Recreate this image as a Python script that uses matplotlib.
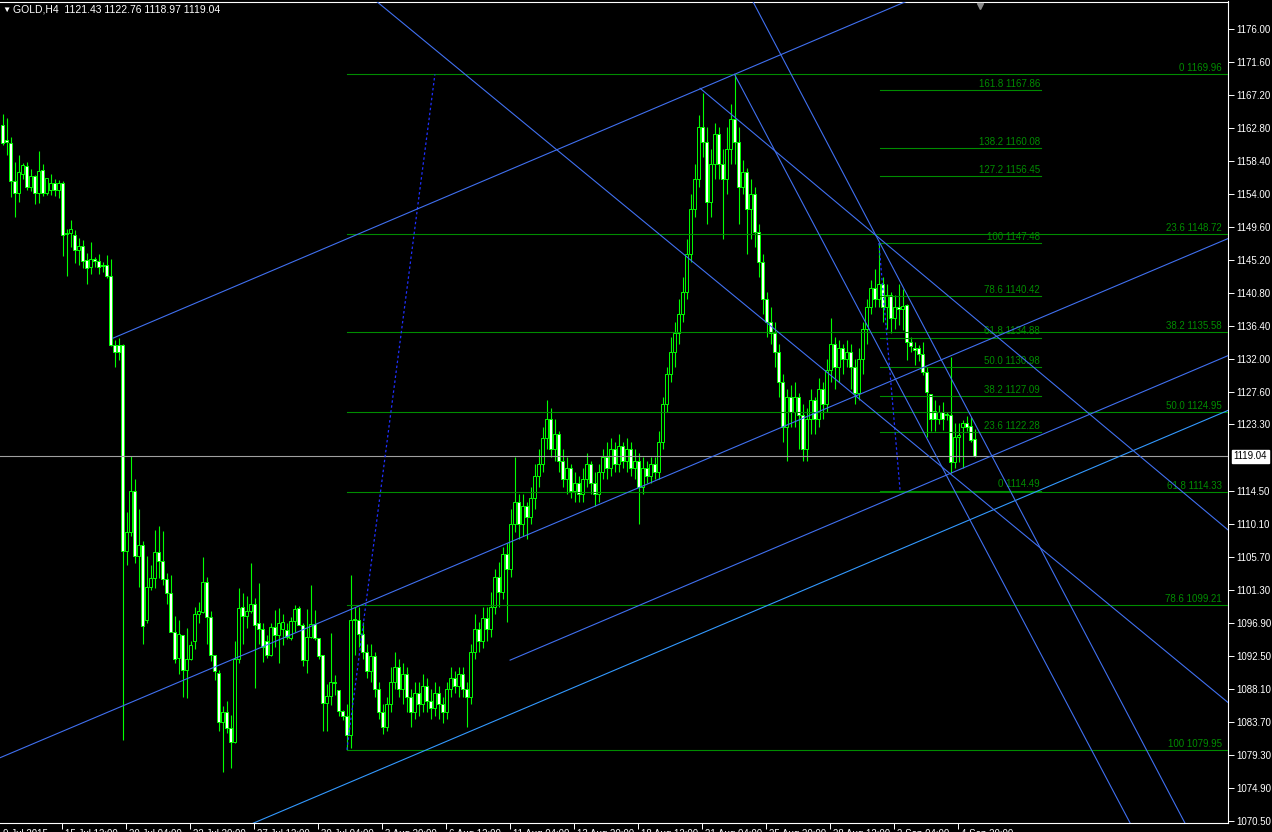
import numpy as np
import matplotlib
matplotlib.use('Agg')
import matplotlib.pyplot as plt
import matplotlib.transforms as mtransforms

plt.rcParams['font.family'] = ['Liberation Sans', 'DejaVu Sans']

# GOLD H4 candles, one value per bar (bar 0 = first bar on the left)
opens = [1163.2, 1161.2, 1160.8, 1155.7, 1154.2, 1156.7, 1157.7, 1154.9, 1156.4, 1154.1,
         1157.2, 1154.1, 1154.6, 1155.5, 1154.5, 1155.5, 1148.7, 1148.8, 1148.6, 1146.6,
         1147.1, 1145.2, 1144.3, 1145.3, 1145.1, 1144.5, 1144.6, 1143.1, 1133.9, 1133.9,
         1133.9, 1106.4, 1109.0, 1114.4, 1105.8, 1107.3, 1097.3, 1101.7, 1102.9, 1106.3,
         1105.1, 1102.7, 1100.9, 1095.7, 1092.2, 1095.2, 1090.6, 1092.1, 1094.4, 1098.1,
         1098.3, 1102.3, 1097.6, 1092.6, 1090.2, 1083.6, 1084.96, 1082.8, 1081.0, 1092.1,
         1099.0, 1097.8, 1098.5, 1099.4, 1096.8, 1096.1, 1094.4, 1092.6, 1096.3, 1095.2,
         1096.0, 1095.9, 1094.8, 1097.1, 1098.8, 1096.6, 1091.9, 1095.0, 1096.7, 1094.8,
         1092.6, 1086.2, 1087.1, 1089.0, 1087.9, 1085.1, 1084.4, 1081.9, 1097.4, 1097.2,
         1095.4, 1093.0, 1090.5, 1092.5, 1088.0, 1085.0, 1083.0, 1086.0, 1089.0, 1091.0,
         1088.0, 1090.0, 1087.0, 1085.0, 1087.5, 1086.0, 1088.5, 1086.5, 1085.5, 1087.5,
         1086.0, 1085.0, 1088.0, 1089.5, 1088.5, 1090.0, 1088.0, 1087.0, 1093.0, 1096.0,
         1094.5, 1097.5, 1096.0, 1099.0, 1103.0, 1101.0, 1106.0, 1104.0, 1110.0, 1113.0,
         1110.0, 1112.5, 1111.0, 1113.5, 1116.5, 1118.0, 1121.5, 1124.0, 1120.0, 1122.0,
         1118.5, 1116.0, 1117.5, 1114.5, 1115.5, 1114.0, 1116.0, 1118.0, 1115.5, 1114.0,
         1117.0, 1119.0, 1117.5, 1120.0, 1118.0, 1120.5, 1118.5, 1120.0, 1117.5, 1118.5,
         1115.0, 1117.5, 1116.5, 1118.0, 1117.0, 1121.0, 1126.0, 1130.0, 1133.0, 1135.5,
         1138.0, 1141.0, 1146.0, 1152.0, 1156.0, 1163.0, 1161.0, 1153.0, 1158.0, 1162.0,
         1158.0, 1156.0, 1160.0, 1164.0, 1161.0, 1155.0, 1157.0, 1152.0, 1154.0, 1149.0,
         1145.0, 1140.0, 1137.0, 1135.5, 1133.0, 1129.0, 1123.0, 1127.0, 1125.0, 1127.0,
         1124.5, 1120.0, 1124.0, 1126.5, 1124.0, 1128.0, 1126.0, 1130.5, 1134.0, 1131.0,
         1133.5, 1132.0, 1133.0, 1131.0, 1127.5, 1132.0, 1136.0, 1139.0, 1141.5, 1140.0,
         1142.0, 1139.0, 1140.5, 1137.5, 1139.0, 1138.65, 1139.2, 1134.3, 1133.5, 1133.5,
         1132.65, 1130.3, 1127.4, 1125.1, 1124.0, 1125.0, 1124.7, 1124.6, 1118.35, 1121.7,
         1123.0, 1123.5, 1123.1, 1121.43]
highs = [1164.7, 1164.1, 1161.6, 1158.3, 1159.2, 1158.2, 1158.3, 1157.4, 1156.5, 1159.7,
         1158.0, 1156.2, 1156.7, 1156.0, 1155.9, 1155.7, 1149.4, 1150.6, 1149.2, 1148.1,
         1147.9, 1146.2, 1147.6, 1145.6, 1146.0, 1145.0, 1145.9, 1145.4, 1134.6, 1134.8,
         1134.0, 1111.7, 1119.1, 1116.0, 1112.1, 1107.8, 1105.8, 1104.6, 1109.2, 1109.8,
         1109.1, 1103.5, 1103.2, 1097.8, 1097.3, 1095.3, 1096.2, 1094.4, 1099.0, 1099.7,
         1105.6, 1103.0, 1098.4, 1092.6, 1090.6, 1085.8, 1086.4, 1084.6, 1094.5, 1101.5,
         1100.8, 1100.4, 1104.9, 1100.2, 1102.2, 1096.8, 1095.2, 1096.8, 1098.6, 1098.8,
         1098.1, 1096.8, 1097.7, 1099.2, 1099.1, 1096.8, 1098.7, 1101.9, 1098.6, 1094.8,
         1092.6, 1088.7, 1095.5, 1089.9, 1087.9, 1085.3, 1086.1, 1103.2, 1099.0, 1099.0,
         1097.0, 1094.0, 1094.0, 1093.0, 1089.0, 1086.0, 1087.0, 1091.0, 1093.0, 1092.0,
         1091.5, 1091.0, 1088.0, 1089.0, 1089.0, 1090.0, 1089.5, 1088.0, 1089.0, 1088.5,
         1087.0, 1089.0, 1091.0, 1090.5, 1091.0, 1091.0, 1089.0, 1094.0, 1098.0, 1097.0,
         1099.0, 1099.0, 1101.0, 1104.0, 1105.0, 1107.0, 1107.5, 1112.0, 1119.0, 1114.0,
         1114.0, 1113.0, 1115.0, 1118.0, 1120.0, 1123.0, 1126.5, 1125.5, 1124.0, 1122.5,
         1120.0, 1119.0, 1118.0, 1117.0, 1116.5, 1117.5, 1119.5, 1118.5, 1117.0, 1118.0,
         1120.0, 1121.0, 1121.5, 1121.0, 1122.0, 1121.0, 1121.5, 1121.0, 1120.0, 1119.5,
         1119.0, 1118.5, 1119.0, 1119.0, 1122.5, 1127.0, 1131.0, 1135.0, 1137.0, 1140.0,
         1143.0, 1148.0, 1154.0, 1158.0, 1164.5, 1167.5, 1163.0, 1160.0, 1163.5, 1163.0,
         1160.0, 1163.0, 1166.0, 1169.96, 1163.0, 1158.5, 1157.5, 1156.0, 1155.0, 1150.0,
         1146.0, 1141.0, 1139.0, 1137.0, 1134.0, 1130.0, 1128.0, 1128.5, 1129.0, 1127.5,
         1126.0, 1125.5, 1128.0, 1127.0, 1129.5, 1129.0, 1132.0, 1137.5, 1135.0, 1134.5,
         1134.0, 1134.5, 1134.0, 1132.0, 1133.5, 1137.0, 1140.0, 1142.5, 1144.0, 1147.48,
         1143.0, 1142.0, 1141.0, 1140.5, 1142.0, 1141.4, 1139.3, 1135.0, 1134.3, 1133.9,
         1134.3, 1131.0, 1127.4, 1126.6, 1125.9, 1126.3, 1125.0, 1132.25, 1123.5, 1123.5,
         1123.9, 1124.4, 1124.3, 1122.76]
lows = [1160.5, 1159.2, 1153.6, 1151.0, 1152.9, 1156.0, 1154.6, 1154.4, 1152.7, 1152.8,
        1153.8, 1153.9, 1153.9, 1153.7, 1153.5, 1145.8, 1143.1, 1147.0, 1144.8, 1144.5,
        1144.1, 1142.0, 1143.4, 1144.3, 1143.4, 1143.6, 1142.8, 1133.8, 1131.0, 1131.9,
        1081.3, 1104.6, 1108.4, 1104.8, 1101.7, 1094.1, 1096.8, 1101.3, 1101.5, 1102.8,
        1101.9, 1099.4, 1095.7, 1091.5, 1090.1, 1087.0, 1086.8, 1091.9, 1093.4, 1096.9,
        1098.2, 1094.1, 1091.8, 1089.3, 1082.4, 1077.0, 1082.2, 1077.5, 1080.8, 1091.5,
        1094.1, 1096.2, 1098.2, 1088.2, 1094.1, 1091.7, 1092.2, 1092.4, 1093.7, 1091.5,
        1093.9, 1094.7, 1094.6, 1095.7, 1096.6, 1091.1, 1090.2, 1094.8, 1094.6, 1092.1,
        1082.4, 1082.4, 1085.9, 1087.3, 1084.4, 1083.9, 1079.95, 1080.2, 1092.6, 1093.7,
        1092.0, 1089.5, 1089.0, 1087.0, 1084.0, 1082.0, 1082.5, 1085.0, 1088.0, 1087.0,
        1086.0, 1085.0, 1083.0, 1084.0, 1084.5, 1085.0, 1085.0, 1084.0, 1084.5, 1084.0,
        1083.5, 1084.0, 1087.0, 1087.5, 1087.0, 1087.0, 1083.0, 1086.0, 1092.0, 1093.0,
        1093.5, 1094.5, 1095.0, 1098.0, 1099.0, 1100.0, 1097.0, 1103.0, 1109.0, 1108.0,
        1108.5, 1108.0, 1110.0, 1112.0, 1115.0, 1117.0, 1120.0, 1119.0, 1118.5, 1117.0,
        1115.0, 1114.0, 1113.5, 1113.0, 1113.0, 1113.0, 1115.0, 1114.0, 1112.5, 1113.0,
        1116.0, 1116.0, 1116.5, 1117.0, 1117.0, 1117.5, 1117.0, 1116.5, 1116.0, 1110.0,
        1114.0, 1115.5, 1115.5, 1116.0, 1116.0, 1120.0, 1125.0, 1129.0, 1131.0, 1134.0,
        1137.0, 1140.0, 1145.0, 1151.0, 1155.0, 1159.0, 1150.0, 1151.0, 1156.0, 1156.0,
        1148.0, 1154.0, 1158.0, 1158.0, 1150.0, 1154.0, 1146.0, 1148.0, 1147.0, 1143.0,
        1138.0, 1135.0, 1134.0, 1131.0, 1127.0, 1121.0, 1118.5, 1123.0, 1123.0, 1120.0,
        1118.5, 1118.5, 1122.0, 1122.0, 1123.0, 1124.0, 1125.0, 1129.0, 1128.0, 1129.0,
        1130.0, 1131.0, 1128.0, 1126.0, 1126.5, 1130.0, 1134.0, 1138.0, 1139.0, 1139.0,
        1137.0, 1136.0, 1135.5, 1136.0, 1136.5, 1135.9, 1131.9, 1133.0, 1131.2, 1131.7,
        1129.9, 1121.7, 1122.5, 1122.5, 1123.4, 1122.6, 1123.9, 1116.8, 1117.5, 1118.3,
        1117.5, 1122.5, 1121.0, 1118.97]
closes = [1160.8, 1160.9, 1155.7, 1154.2, 1157.0, 1157.9, 1154.9, 1156.4, 1154.1, 1157.1,
          1154.1, 1156.1, 1155.5, 1154.5, 1155.5, 1148.6, 1148.8, 1149.3, 1146.6, 1147.1,
          1145.1, 1144.1, 1145.4, 1145.1, 1144.3, 1144.4, 1143.1, 1133.9, 1133.0, 1133.0,
          1106.4, 1109.0, 1114.4, 1105.8, 1107.3, 1096.45, 1101.7, 1102.9, 1106.3, 1105.1,
          1102.7, 1100.8, 1095.7, 1092.1, 1095.4, 1090.6, 1092.1, 1093.9, 1098.0, 1098.4,
          1102.3, 1097.6, 1092.6, 1090.5, 1083.6, 1084.96, 1082.8, 1081.0, 1092.1, 1098.9,
          1097.8, 1098.5, 1099.4, 1096.6, 1096.1, 1093.6, 1092.6, 1096.3, 1095.2, 1096.8,
          1097.0, 1095.0, 1097.1, 1098.7, 1096.6, 1091.9, 1095.0, 1096.7, 1094.8, 1092.4,
          1086.2, 1087.1, 1089.0, 1088.9, 1085.1, 1084.4, 1081.9, 1097.3, 1097.2, 1095.4,
          1093.0, 1090.5, 1092.5, 1088.0, 1085.0, 1083.0, 1086.0, 1089.0, 1091.0, 1088.0,
          1090.0, 1087.0, 1085.0, 1087.5, 1086.0, 1088.5, 1086.5, 1085.5, 1087.5, 1086.0,
          1085.0, 1088.0, 1089.5, 1088.5, 1090.0, 1088.0, 1087.0, 1093.0, 1096.0, 1094.5,
          1097.5, 1096.0, 1099.0, 1103.0, 1101.0, 1106.0, 1104.0, 1110.0, 1113.0, 1110.0,
          1112.5, 1111.0, 1113.5, 1116.5, 1118.0, 1121.5, 1124.0, 1120.0, 1122.0, 1118.5,
          1116.0, 1117.5, 1114.5, 1115.5, 1114.0, 1116.0, 1118.0, 1115.5, 1114.0, 1117.0,
          1119.0, 1117.5, 1120.0, 1118.0, 1120.5, 1118.5, 1120.0, 1117.5, 1118.5, 1115.0,
          1117.5, 1116.5, 1118.0, 1117.0, 1121.0, 1126.0, 1130.0, 1133.0, 1135.5, 1138.0,
          1141.0, 1146.0, 1152.0, 1156.0, 1163.0, 1161.0, 1153.0, 1158.0, 1162.0, 1158.0,
          1156.0, 1160.0, 1164.0, 1161.0, 1155.0, 1157.0, 1152.0, 1154.0, 1149.0, 1145.0,
          1140.0, 1137.0, 1135.5, 1133.0, 1129.0, 1123.0, 1127.0, 1125.0, 1127.0, 1124.5,
          1120.0, 1124.0, 1126.5, 1124.0, 1128.0, 1126.0, 1130.5, 1134.0, 1131.0, 1133.5,
          1132.0, 1133.0, 1131.0, 1127.5, 1132.0, 1136.0, 1139.0, 1141.5, 1140.0, 1142.0,
          1139.0, 1140.5, 1137.5, 1139.0, 1138.7, 1139.1, 1134.3, 1133.7, 1133.2, 1132.7,
          1130.3, 1127.6, 1124.0, 1124.0, 1125.0, 1124.0, 1124.6, 1118.35, 1121.7, 1121.9,
          1123.5, 1123.0, 1121.3, 1119.04]

# right price scale
price_ticks = [1176.00, 1171.60, 1167.20, 1162.80, 1158.40, 1154.00, 1149.60, 1145.20,
               1140.80, 1136.40, 1132.00, 1127.60, 1123.30, 1114.50, 1110.10, 1105.70,
               1101.30, 1096.90, 1092.50, 1088.10, 1083.70, 1079.30, 1074.90, 1070.50]
bid = 1119.04

# time scale
time_bars = [-0.5, 15, 31, 47, 63, 79, 95, 111, 127, 143, 159, 175, 191, 207, 223, 239]
time_labels = ['9 Jul 2015', '15 Jul 12:00', '20 Jul 04:00', '22 Jul 20:00', '27 Jul 12:00',
               '30 Jul 04:00', '3 Aug 20:00', '6 Aug 12:00', '11 Aug 04:00', '13 Aug 20:00',
               '18 Aug 12:00', '21 Aug 04:00', '25 Aug 20:00', '28 Aug 12:00', '2 Sep 04:00',
               '4 Sep 20:00']

# fibonacci retracements
fib1_levels = ['0', '23.6', '38.2', '50.0', '61.8', '78.6', '100']
fib1_prices = [1169.96, 1148.72, 1135.58, 1124.95, 1114.33, 1099.21, 1079.95]
fib1_anchor = [(86.1, 1079.95), (108.1, 1169.96)]
fib2_levels = ['161.8', '138.2', '127.2', '100', '78.6', '61.8', '50.0', '38.2', '23.6', '0']
fib2_prices = [1167.86, 1160.08, 1156.45, 1147.48, 1140.42, 1134.88, 1130.98, 1127.09, 1122.28, 1114.49]
fib2_anchor = [(219.1, 1147.48), (224.4, 1114.49)]

# trend lines (bar, price) anchor pairs
chan_top = [(27.6, 1134.8), (183.0, 1169.96)]
chan_mid1 = [(-0.6, 1078.9), (305.6, 1147.9)]
chan_mid2 = [(126.9, 1091.9), (305.6, 1132.3)]
chan_low = [(62.8, 1070.2), (305.6, 1125.0)]
fan_a = [(93.1, 1179.86), (305.6, 1086.6)]
fan_b = [(174.4, 1168.1), (305.6, 1109.6)]
fan_c = [(187.4, 1179.86), (295.6, 1070.2)]
fan_d = [(183.0, 1169.96), (281.9, 1070.2)]

W, H = 1272, 832
fig = plt.figure(figsize=(W / 100, H / 100), dpi=100, facecolor='black')
ax = fig.add_axes([0, (H - 823) / H, 1228 / W, 821.5 / H])
ax.set_facecolor('black')
ax.set_xlim(-0.625, 306.375)
ax.set_ylim(1070.20, 1179.664)

o = np.array(opens); h = np.array(highs); l = np.array(lows); c = np.array(closes)
idx = np.arange(len(c))
lime = '#00FF00'
ax.vlines(idx, l, h, color=lime, lw=0.8, zorder=2)
ax.bar(idx, np.abs(c - o), bottom=np.minimum(o, c), width=0.55,
       color=np.where(c >= o, 'black', 'white'), edgecolor=lime, linewidth=0.7, zorder=3)

ax.axhline(bid, color='#A0A0A0', lw=0.8, zorder=4)

fgreen = '#008C00'
for lv, pr in zip(fib1_levels, fib1_prices):
    ax.plot([86.1, 320], [pr, pr], color=fgreen, lw=0.8, zorder=4)
    ax.text(304.9, pr + 0.15, f'{lv} {pr:.2f}', color=fgreen, fontsize=7, ha='right', va='bottom', zorder=5)
for lv, pr in zip(fib2_levels, fib2_prices):
    ax.plot([219.4, 259.6], [pr, pr], color=fgreen, lw=0.8, zorder=4)
    ax.text(259.4, pr + 0.15, f'{lv} {pr:.2f}', color=fgreen, fontsize=7, ha='right', va='bottom', zorder=5)
for a in (fib1_anchor, fib2_anchor):
    ax.plot([a[0][0], a[1][0]], [a[0][1], a[1][1]], color='#2030FF', lw=0.9, ls=(0, (2, 2)), zorder=5)


def draw_line(pts, full=False, color='#4070F0'):
    (x1, y1), (x2, y2) = pts
    s = (y2 - y1) / (x2 - x1)
    xa = -20 if full else x1
    xb = 340
    ax.plot([xa, xb], [y1 + s * (xa - x1), y1 + s * (xb - x1)], color=color, lw=0.8, zorder=6)


draw_line(chan_top)
draw_line(chan_mid1, full=True)
draw_line(chan_mid2)
draw_line(chan_low, full=True, color='#3399FF')
draw_line(fan_a, full=True)
draw_line(fan_b)
draw_line(fan_c, full=True)
draw_line(fan_d)

# axes frame
for side in ('top', 'right', 'bottom'):
    ax.spines[side].set_color('white')
    ax.spines[side].set_linewidth(0.8)
ax.spines['left'].set_visible(False)

ax.yaxis.tick_right()
ax.set_yticks(price_ticks, [f'{p:.2f}' for p in price_ticks])
ax.tick_params(axis='y', colors='white', length=4, width=0.7, pad=2, labelsize=7)
ax.set_xticks([b - 0.2 for b in time_bars[1:]], [''] * (len(time_bars) - 1))
ax.tick_params(axis='x', colors='white', length=4, width=0.7)
for b, lab in zip(time_bars, time_labels):
    ax.annotate(lab, xy=(b - 0.2, 0), xycoords=('data', 'axes fraction'),
                xytext=(2.2, -4.3), textcoords='offset points', ha='left', va='top',
                color='white', fontsize=7, annotation_clip=False)

blend = mtransforms.blended_transform_factory(ax.transAxes, ax.transData)
ax.annotate(f'{bid:.2f}', xy=(1, bid), xycoords=blend, xytext=(4, 0), textcoords='offset points',
            ha='left', va='center', color='black', fontsize=7, annotation_clip=False,
            bbox=dict(boxstyle='square,pad=0.15', fc='white', ec='white'))

ax.plot([244.4], [1179.0], marker='v', color='#8A8A8A', ms=5, clip_on=False, zorder=7)

fig.text(2 / W, 1 - 10 / H, '\u25bc', color='white', fontsize=6, va='center', ha='left')
fig.text(13 / W, 1 - 10 / H, 'GOLD,H4  1121.43 1122.76 1118.97 1119.04', color='white',
         fontsize=7.5, va='center', ha='left')

fig.savefig('out.png', dpi=100, facecolor='black')
